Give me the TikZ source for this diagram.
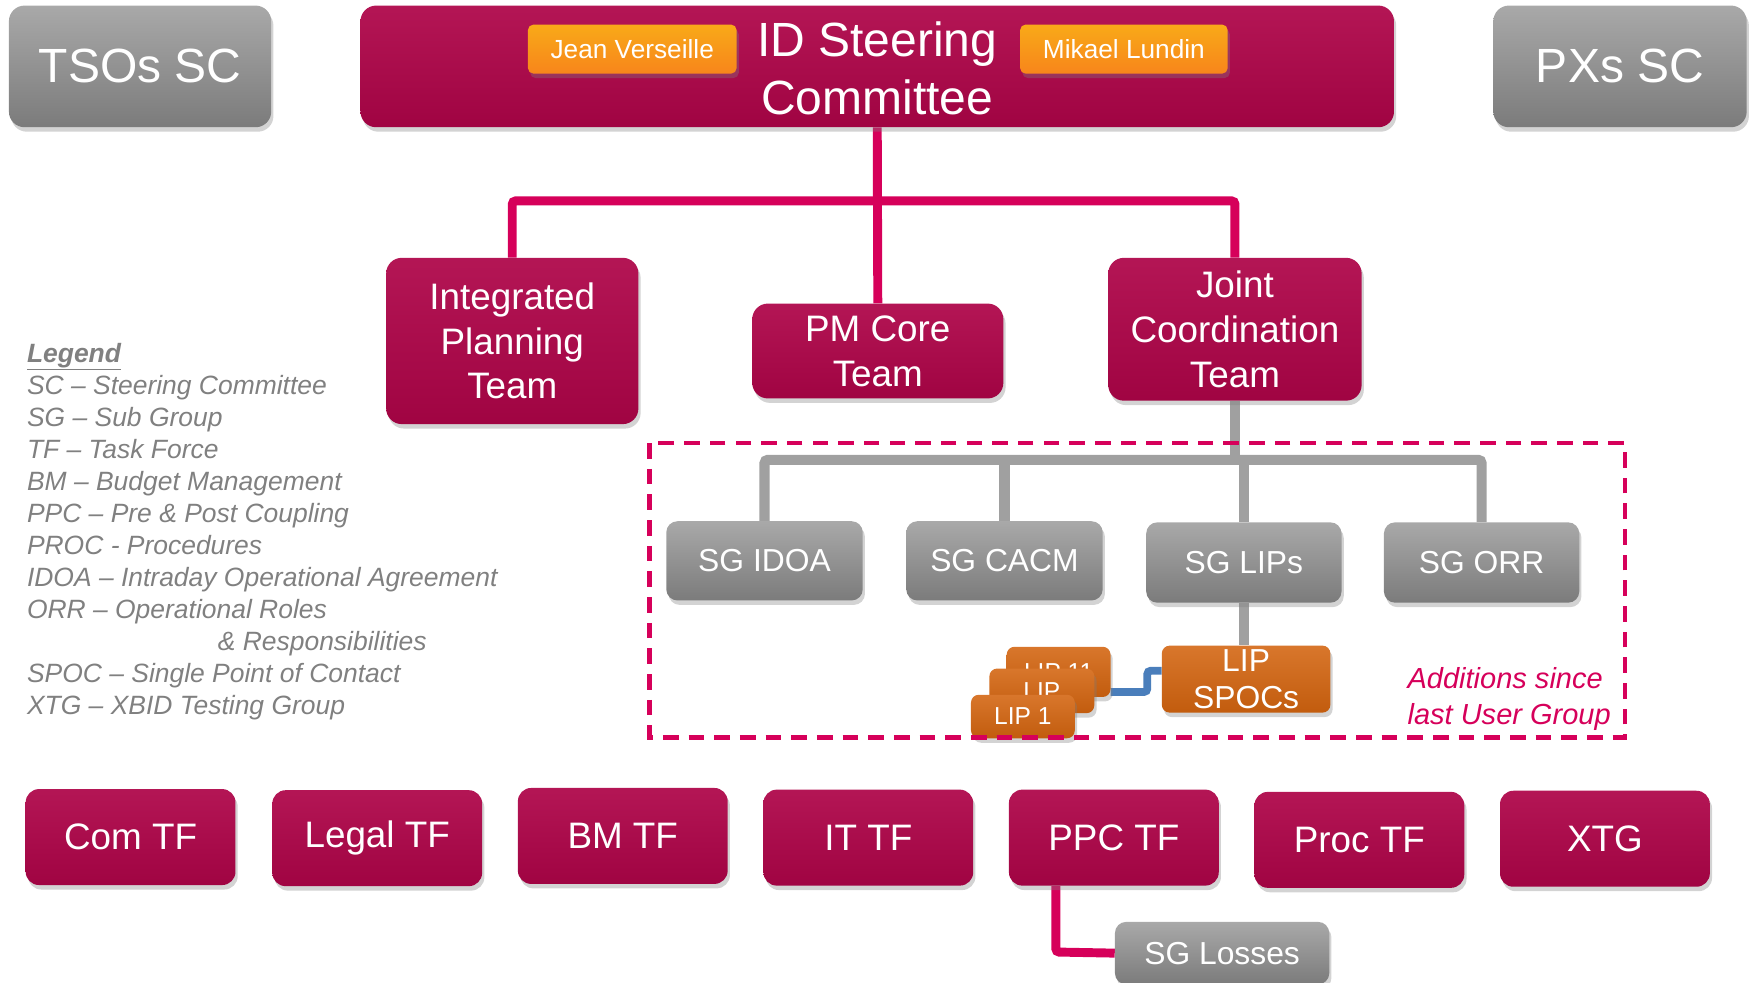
\documentclass[tikz,border=0pt]{standalone}
\usepackage{fontspec}
\setmainfont{Liberation Sans}
\usetikzlibrary{shadows,backgrounds}
\definecolor{crim}{RGB}{174,4,72}
\definecolor{pinkln}{RGB}{214,0,90}
\definecolor{boxgray}{RGB}{140,140,140}
\definecolor{lngray}{RGB}{160,160,160}
\definecolor{nameor}{RGB}{247,148,30}
\definecolor{lipor}{RGB}{211,100,15}
\definecolor{blueln}{RGB}{74,126,187}
\definecolor{leggray}{RGB}{128,128,128}
\newcommand{\fs}[2]{\fontsize{#1}{#2}\selectfont}
\tikzset{
  box/.style={rectangle, inner sep=0pt, text=white, align=center,
    drop shadow={opacity=0.35, shadow xshift=2pt, shadow yshift=-4pt}},
  crimbox/.style={box, top color=crim!93!white, middle color=crim, bottom color=crim!92!black, rounded corners=14pt},
  graybox/.style={box, top color=boxgray!75!white, middle color=boxgray, bottom color=boxgray!88!black, rounded corners=14pt},
  sgbox/.style={graybox, rounded corners=10pt, minimum width=176pt, minimum height=71pt, font=\fs{28.5}{33}},
  tfbox/.style={crimbox, rounded corners=12pt, minimum width=188pt, minimum height=86pt, font=\fs{33}{40}},
  namebox/.style={box, top color=nameor!80!yellow, bottom color=nameor!90!red, rounded corners=5pt, minimum width=187pt, minimum height=44pt, font=\fs{23.5}{28}},
  lipbox/.style={box, top color=lipor!88!white, middle color=lipor, bottom color=lipor!92!black, rounded corners=7pt, font=\fs{22}{26}},
  pinkconn/.style={draw=pinkln, line width=8pt, rounded corners=3pt},
  grayconn/.style={draw=lngray, line width=9pt, rounded corners=3pt},
  blueconn/.style={draw=blueln, line width=7pt, rounded corners=3pt},
  dashbox/.style={draw=pinkln, line width=4pt, dash pattern=on 14pt off 9pt},
}
\begin{document}
\begin{tikzpicture}[x=1pt, y=-1pt]
\useasboundingbox (0,0) rectangle (1568,880);

% top row
\node[graybox, minimum width=235pt, minimum height=109pt, font=\fs{43}{52}] (tsos) at (125.5,59.5) {TSOs SC};
\node[crimbox, minimum width=926pt, minimum height=109pt] (idsc) at (786,59.5) {};
\node[text=white, align=center, inner sep=0pt, font=\fs{43}{52}] (idsctext) at (786,61) {ID Steering\\Committee};
\node[namebox] (jean) at (566.5,44) {Jean Verseille};
\node[namebox, minimum width=186pt] (mikael) at (1007,44) {Mikael Lundin};
\node[graybox, minimum width=227pt, minimum height=109pt, font=\fs{43}{52}] (pxs) at (1451.5,59.5) {PXs SC};

% second row
\node[crimbox, minimum width=226pt, minimum height=149pt, font=\fs{33}{40}] (ipt) at (459,305.5) {Integrated\\Planning\\Team};
\node[crimbox, minimum width=225pt, minimum height=85pt, font=\fs{33}{40}] (pmc) at (786.5,314.5) {PM Core\\Team};
\node[crimbox, minimum width=227pt, minimum height=128pt, font=\fs{33}{40}] (jct) at (1106.5,295) {Joint\\Coordination\\Team};

% sub groups
\node[sgbox] (sgidoa) at (685,502.5) {SG IDOA};
\node[sgbox] (sgcacm) at (900,502.5) {SG CACM};
\node[sgbox, minimum width=175pt, minimum height=72pt] (sglips) at (1114.5,504) {SG LIPs};
\node[sgbox, minimum width=175pt, minimum height=72pt] (sgorr) at (1327.5,504) {SG ORR};

% LIPs
\node[lipbox, minimum width=151pt, minimum height=60pt, font=\fs{28.5}{33}] (lipspocs) at (1116.5,608.5) {LIP\\SPOCs};
\node[lipbox, minimum width=93pt, minimum height=45pt] (lip11) at (948.5,602) {LIP 11};
\node[lipbox, minimum width=94pt, minimum height=40pt] (lipm) at (933.5,619) {LIP};
\node[lipbox, minimum width=93pt, minimum height=39pt] (lip1) at (916.5,642) {LIP 1};

% task forces
\node[tfbox] (comtf) at (117,750) {Com TF};
\node[tfbox] (legaltf) at (338,751) {Legal TF};
\node[tfbox] (bmtf) at (558,749) {BM TF};
\node[tfbox] (ittf) at (778,750.5) {IT TF};
\node[tfbox] (ppctf) at (998,750.5) {PPC TF};
\node[tfbox] (proctf) at (1218,752.5) {Proc TF};
\node[tfbox] (xtg) at (1438,751.5) {XTG};
\node[sgbox, minimum width=192pt, minimum height=56pt] (sglosses) at (1095,854) {SG Losses};

% legend
\node[anchor=north west, inner sep=0pt, align=left, text=leggray, font=\fs{23.7}{28.7}\itshape] (legend) at (24,307)
 {\underline{\textbf{Legend}}\\
  SC – Steering Committee\\
  SG – Sub Group\\
  TF – Task Force\\
  BM – Budget Management\\
  PPC – Pre \& Post Coupling\\
  PROC - Procedures\\
  IDOA – Intraday Operational Agreement\\
  ORR – Operational Roles\\
  \hspace*{171pt}\& Responsibilities\\
  SPOC – Single Point of Contact\\
  XTG – XBID Testing Group};

\node[anchor=west, inner sep=0pt, align=left, text=pinkln, font=\fs{26}{32}\itshape] (additions) at (1261,626) {Additions since\\last User Group};

% connectors
\coordinate (bus) at (786,180);
\coordinate (gbus) at (1107,412);
\coordinate (bA) at (1028,620);
\coordinate (bB) at (1028,601);
\coordinate (pl) at (946,853);
\begin{scope}[on background layer]
\draw[pinkconn] (idsc.south) -- (pmc.north);
\draw[pinkconn] (ipt.north) |- (bus) -| (jct.north);
\draw[grayconn] (jct.south) -- (jct.south |- gbus);
\draw[grayconn] (sgidoa.north) |- (gbus) -| (sgorr.north);
\draw[grayconn] (sgcacm.north) -- (sgcacm.north |- gbus);
\draw[grayconn] (sglips.north) -- (sglips.north |- gbus);
\draw[grayconn] (sglips.south) -- (sglips.south |- lipspocs.north);
\draw[blueconn] (lip11.east |- bA) -- (bA) |- (lipspocs.west |- bB);
\draw[pinkconn] (pl |- ppctf.south) -- (pl) -- (sglosses.west);
\end{scope}

\draw[dashbox] (582,397) rectangle (1456,661);
\end{tikzpicture}
\end{document}
